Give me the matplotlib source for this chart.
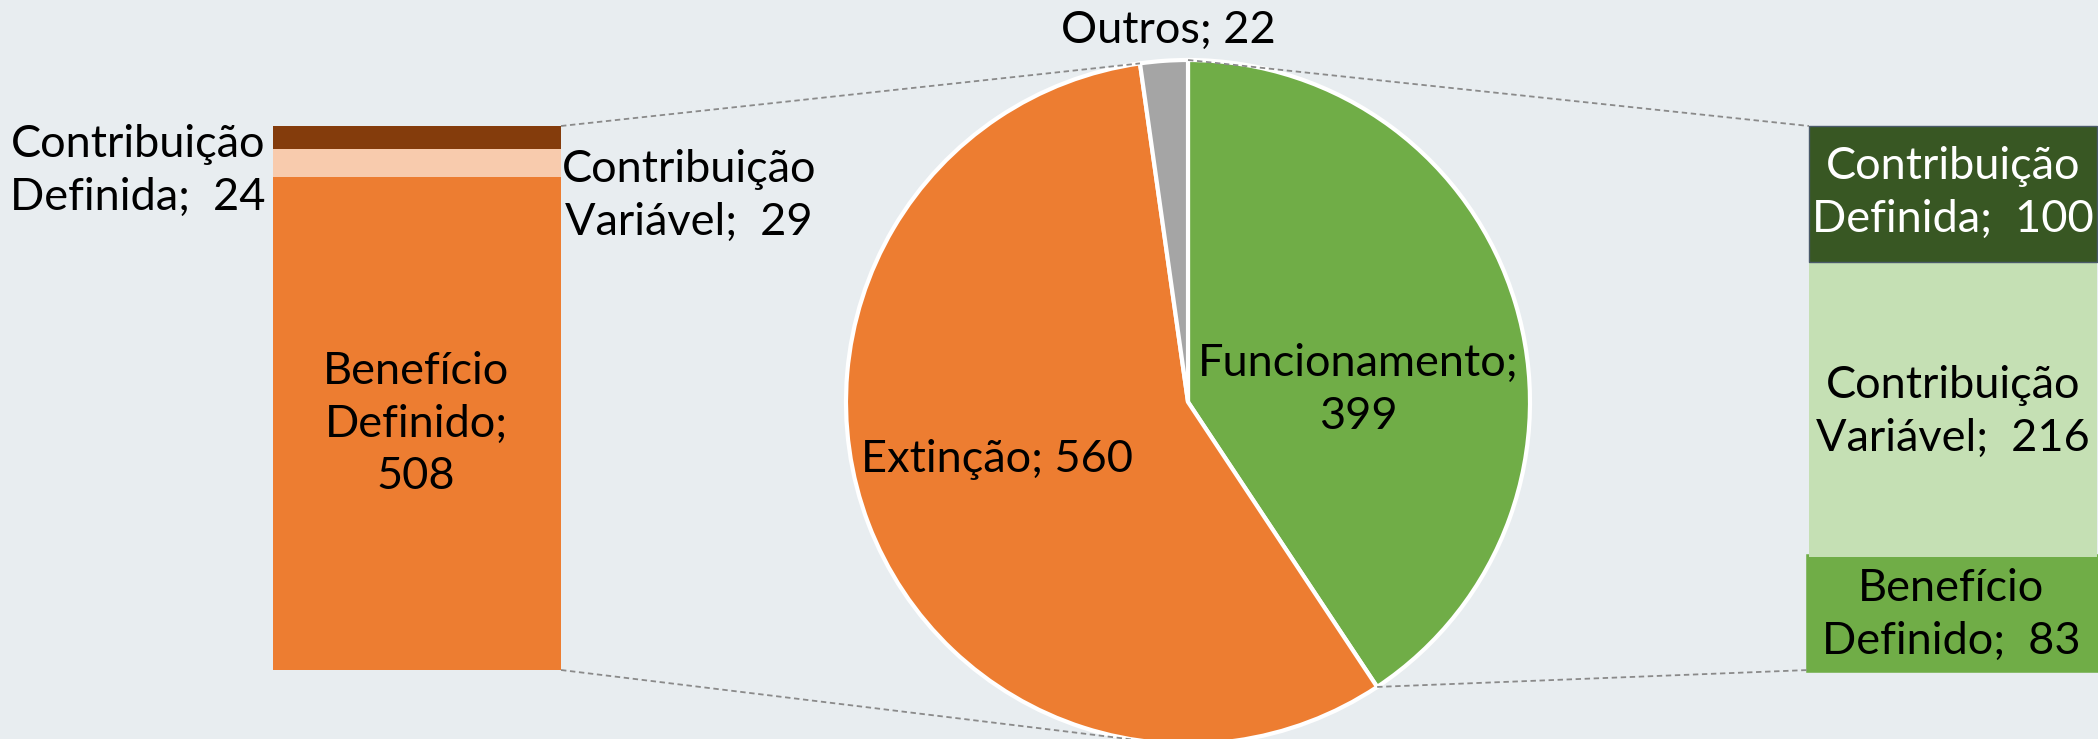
import numpy as np
import matplotlib.pyplot as plt

plt.close('all')
plt.rcParams['font.family'] = ['Lato', 'DejaVu Sans']

# pie data
pie_labels = ['Funcionamento', 'Extinção', 'Outros']
pie_values = [399, 560, 22]
pie_colors = ['#70AD47', '#ED7D31', '#A5A5A5']

# left bar (breakdown of Extinção), bottom to top
left_labels = ['Benefício\nDefinido;\n508', 'Contribuição\nVariável;  29', 'Contribuição\nDefinida;  24']
left_values = [508, 29, 24]
left_colors = ['#ED7D31', '#F8CBAD', '#843C0C']

# right bar (breakdown of Funcionamento), bottom to top
right_labels = ['Benefício\nDefinido;  83', 'Contribuição\nVariável;  216', 'Contribuição\nDefinida;  100']
right_values = [83, 216, 100]
right_colors = ['#70AD47', '#C5E0B4', '#385723']

W, H = 2098, 739
fig = plt.figure(figsize=(W / 100, H / 100), dpi=100)
fig.patch.set_facecolor('#E8EDF0')
ax = fig.add_axes([0, 0, 1, 1])
ax.set_facecolor('#E8EDF0')

# pie
cx, cy, r = 1188, 337, 342
ax.pie(pie_values, colors=pie_colors, startangle=90, counterclock=False,
       center=(cx, cy), radius=r,
       wedgeprops=dict(edgecolor='white', linewidth=3))

fs = 32.5
ls = 1.35
ax.text(1168, H - 30, 'Outros; 22', ha='center', va='center', fontsize=fs)
ax.text(997, H - 459, 'Extinção; 560', ha='center', va='center', fontsize=fs)
ax.text(1358, H - 390, 'Funcionamento;\n399', ha='center', va='center', fontsize=fs,
        linespacing=ls)

# stacked bars
bar_top, bar_bot, bar_w = H - 126, H - 670, 288
bar_h = bar_top - bar_bot


def stacked(x_left, values, colors):
    scale = bar_h / sum(values)
    bottom = bar_bot
    rects = []
    for v, c in zip(values, colors):
        b = ax.bar(x_left + bar_w / 2, v * scale, bottom=bottom, width=bar_w,
                   color=c, linewidth=0)
        rects.append(b[0])
        bottom += v * scale
    return rects


left_rects = stacked(273, left_values, left_colors)
right_rects = stacked(1809, right_values, right_colors)
right_rects[0].set_edgecolor(right_colors[0])
right_rects[0].set_linewidth(4)
right_rects[2].set_edgecolor('#4A5A6A')
right_rects[2].set_linewidth(1)

# labels on bars
ax.text(416, H - 424, left_labels[0], ha='center', va='center', fontsize=fs, linespacing=ls)
ax.text(689, H - 196, left_labels[1], ha='center', va='center', fontsize=fs, linespacing=ls)
ax.text(138, H - 171, left_labels[2], ha='center', va='center', fontsize=fs, linespacing=ls)
ax.text(1951, H - 615, right_labels[0], ha='center', va='center', fontsize=fs, linespacing=ls)
ax.text(1953, H - 412, right_labels[1], ha='center', va='center', fontsize=fs, linespacing=ls)
ax.text(1953, H - 193, right_labels[2], ha='center', va='center', fontsize=fs, linespacing=ls,
        color='white')

# connector lines
def pie_point(deg):
    t = np.deg2rad(deg)
    return cx + r * np.cos(t), cy + r * np.sin(t)


tot = sum(pie_values)
a_green_end = 90 - 360 * pie_values[0] / tot
a_outros = 90 + 360 * pie_values[2] / tot
line_kw = dict(color='#8A8A8A', linestyle=(0, (3, 2)), linewidth=1.3)

p = pie_point(a_outros)
ax.plot([273 + bar_w, p[0]], [bar_top, p[1]], **line_kw)
p = pie_point(261)
ax.plot([273 + bar_w, p[0]], [bar_bot, p[1]], **line_kw)
p = pie_point(90)
ax.plot([p[0], 1809], [p[1], bar_top], **line_kw)
p = pie_point(a_green_end)
ax.plot([p[0], 1809], [p[1], bar_bot], **line_kw)

ax.set_xlim(0, W)
ax.set_ylim(0, H)
ax.set_aspect('auto')
ax.axis('off')

plt.savefig('out.png', dpi=100, facecolor=fig.get_facecolor())
